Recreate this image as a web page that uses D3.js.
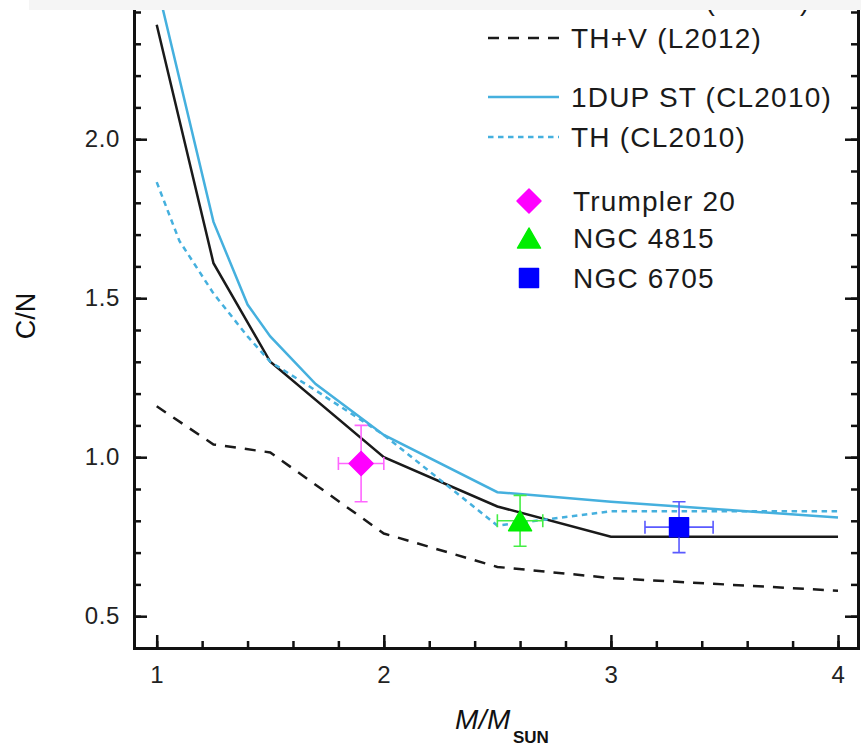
<!DOCTYPE html>
<html>
<head>
<meta charset="utf-8">
<script src="https://cdn.jsdelivr.net/npm/d3@7"></script>
<style>
    body { margin: 0; background: #fff; }
    svg { display: block; font-family: Arial, "Liberation Sans", Helvetica, sans-serif; }
</style>
</head>
<body>
<script>
// ! DATA ! //
// model tracks: [mass, C/N]
const dup1L2012 = [[1.0, 2.36], [1.25, 1.61], [1.5, 1.3], [2.0, 1.0], [2.5, 0.845], [3.0, 0.75], [4.0, 0.75]];
const thvL2012 = [[1.0, 1.16], [1.25, 1.04], [1.5, 1.015], [2.0, 0.76], [2.5, 0.655], [3.0, 0.62], [4.0, 0.58]];
const dupCL2010 = [[1.0, 2.49], [1.25, 1.74], [1.4, 1.48], [1.5, 1.38], [1.7, 1.23], [2.0, 1.07], [2.5, 0.89], [3.0, 0.86], [4.0, 0.81]];
const thCL2010 = [[1.0, 1.865], [1.1, 1.68], [1.25, 1.515], [1.4, 1.38], [1.5, 1.3], [1.7, 1.21], [2.0, 1.07], [2.5, 0.785], [3.0, 0.83], [4.0, 0.83]];

// clusters
const clusterNames = ["Trumpler 20", "NGC 4815", "NGC 6705"];
const clusterMass = [1.9, 2.6, 3.3];
const clusterMassErr = [0.1, 0.1, 0.15];
const clusterCN = [0.98, 0.8, 0.78];
const clusterCNErr = [0.12, 0.08, 0.08];

// ticks
const xMajorTicks = [1, 2, 3, 4];
const yMajorTicks = [0.5, 1.0, 1.5, 2.0, 2.5];
const yTickLabels = ["0.5", "1.0", "1.5", "2.0", ""];

document.addEventListener("DOMContentLoaded", () => {
    const width = 861;
    const height = 746;

    const svg = d3.select("body").append("svg").attr("width", width).attr("height", height);

    // ^ SCALES ^ //
    const x = d3.scaleLinear().domain([0.9, 4.088]).range([134, 858]);
    const y = d3.scaleLinear().domain([0.4, 2.6]).range([648, -51.6]);

    const line = d3.line().x((d) => x(d[0])).y((d) => y(d[1]));

    // ^ MODEL LINES ^ //
    const tracks = [
        { data: dup1L2012, color: "#1a1a1a", dash: null, label: "1DUP ST (L2012)" },
        { data: thvL2012, color: "#1a1a1a", dash: "11,9", label: "TH+V (L2012)" },
        { data: dupCL2010, color: "#45b0de", dash: null, label: "1DUP ST (CL2010)" },
        { data: thCL2010, color: "#45b0de", dash: "5.5,4.5", label: "TH (CL2010)" },
    ];

    svg.append("g")
        .selectAll("path")
        .data(tracks)
        .enter()
        .append("path")
        .attr("d", (d) => line(d.data))
        .attr("fill", "none")
        .attr("stroke", (d) => d.color)
        .attr("stroke-width", 2.5)
        .attr("stroke-dasharray", (d) => d.dash);

    // ^ MARKERS ^ //
    const markerColors = ["#ff00ff", "#00ee00", "#0000ff"];
    const errColors = ["#ff66ff", "#44ee44", "#5a5aff"];
    const markerKinds = ["diamond", "triangle", "square"];

    const markerPath = (kind) => {
        if (kind === "diamond") return "M0,-12L12,0L0,12L-12,0Z";
        if (kind === "triangle") return "M0,-10L11.5,10L-11.5,10Z";
        return "M-9.5,-9.5H9.5V9.5H-9.5Z";
    };

    const cap = 6.5;
    const errG = svg.append("g");
    clusterNames.forEach((name, i) => {
        const cx = x(clusterMass[i]);
        const cy = y(clusterCN[i]);
        const x0 = x(clusterMass[i] - clusterMassErr[i]);
        const x1 = x(clusterMass[i] + clusterMassErr[i]);
        const y0 = y(clusterCN[i] - clusterCNErr[i]);
        const y1 = y(clusterCN[i] + clusterCNErr[i]);
        const p = `M${x0},${cy}H${x1}M${cx},${y0}V${y1}` +
            `M${x0},${cy - cap}V${cy + cap}M${x1},${cy - cap}V${cy + cap}` +
            `M${cx - cap},${y0}H${cx + cap}M${cx - cap},${y1}H${cx + cap}`;
        errG.append("path").attr("d", p).attr("fill", "none").attr("stroke", errColors[i]).attr("stroke-width", 1.6);
    });

    svg.append("g")
        .selectAll("path")
        .data(clusterNames)
        .enter()
        .append("path")
        .attr("d", (d, i) => markerPath(markerKinds[i]))
        .attr("transform", (d, i) => `translate(${x(clusterMass[i])},${y(clusterCN[i])})`)
        .attr("fill", (d, i) => markerColors[i])
        .attr("stroke", (d, i) => markerColors[i])
        .attr("stroke-width", 1.5)
        .attr("stroke-linejoin", "round");

    // ^ AXES ^ //
    const yMinor = d3.range(0.4, 2.61, 0.1).map((v) => +v.toFixed(1));
    const xMinor = d3.range(1, 4.01, 0.2).map((v) => +v.toFixed(1));

    const styleAxis = (g) => {
        g.select(".domain").attr("stroke-width", 3).attr("stroke", "#111");
        g.selectAll(".tick line").attr("stroke-width", 2.5).attr("stroke", "#111");
        g.selectAll(".tick text").attr("font-size", 24).attr("fill", "#222").attr("letter-spacing", 0.6)
            .attr("font-family", "Arial, 'Liberation Sans', sans-serif");
    };

    // left
    svg.append("g").attr("transform", `translate(${x(0.9)},0)`)
        .call(d3.axisLeft(y).tickValues(yMinor).tickSize(-7).tickSizeOuter(0).tickFormat(""))
        .call(styleAxis);
    svg.append("g").attr("transform", `translate(${x(0.9)},0)`)
        .call(d3.axisLeft(y).tickValues(yMajorTicks).tickSize(-13).tickSizeOuter(0).tickPadding(14)
            .tickFormat((d, i) => yTickLabels[i]))
        .call(styleAxis)
        .call((g) => g.select(".domain").remove());

    // right
    svg.append("g").attr("transform", `translate(858,0)`)
        .call(d3.axisRight(y).tickValues(yMinor).tickSize(-7).tickSizeOuter(0).tickFormat(""))
        .call(styleAxis);
    svg.append("g").attr("transform", `translate(858,0)`)
        .call(d3.axisRight(y).tickValues(yMajorTicks).tickSize(-13).tickSizeOuter(0).tickFormat(""))
        .call(styleAxis)
        .call((g) => g.select(".domain").remove());

    // bottom
    svg.append("g").attr("transform", `translate(0,${y(0.4)})`)
        .call(d3.axisBottom(x).tickValues(xMinor).tickSize(-7).tickSizeOuter(0).tickFormat(""))
        .call(styleAxis)
        .call((g) => g.select(".domain").attr("stroke-linecap", "square"));
    svg.append("g").attr("transform", `translate(0,${y(0.4)})`)
        .call(d3.axisBottom(x).tickValues(xMajorTicks).tickSize(-13).tickSizeOuter(0).tickPadding(18)
            .tickFormat((d) => d))
        .call(styleAxis)
        .call((g) => g.select(".domain").remove());

    // ^ AXIS TITLES ^ //
    svg.append("text")
        .attr("transform", "translate(35,316) rotate(-90)")
        .attr("text-anchor", "middle")
        .attr("font-size", 27)
        .attr("fill", "#111")
        .text("C/N");

    const xTitle = svg.append("text").attr("x", 455).attr("y", 729).attr("fill", "#111");
    xTitle.append("tspan").attr("font-size", 28).attr("font-style", "italic").attr("letter-spacing", 0.5).text("M/M");
    xTitle.append("tspan").attr("font-size", 17).attr("font-weight", "bold").attr("dy", 14).attr("dx", 2).text("SUN");

    // ^ LEGEND ^ //
    const legend = svg.append("g");
    const legendRows = [0, 38, 97, 137];
    tracks.forEach((t, i) => {
        const ly = legendRows[i];
        legend.append("line")
            .attr("x1", 488).attr("x2", i === 1 ? 562 : 559)
            .attr("y1", ly).attr("y2", ly)
            .attr("stroke", t.color).attr("stroke-width", 2.5)
            .attr("stroke-dasharray", t.dash);
        legend.append("text")
            .attr("x", 571).attr("y", ly).attr("dy", "0.35em")
            .attr("font-size", 28).attr("letter-spacing", 1.2).attr("fill", "#1a1a1a")
            .text(t.label);
    });

    const markerRows = [201, 238, 278];
    clusterNames.forEach((name, i) => {
        legend.append("path")
            .attr("d", markerPath(markerKinds[i]))
            .attr("transform", `translate(529,${markerRows[i]})`)
            .attr("fill", markerColors[i]).attr("stroke", markerColors[i])
            .attr("stroke-width", 1.5).attr("stroke-linejoin", "round");
        legend.append("text")
            .attr("x", 573).attr("y", markerRows[i]).attr("dy", "0.35em")
            .attr("font-size", 28).attr("letter-spacing", 1.2).attr("fill", "#1a1a1a")
            .text(name);
    });

    // ^ TOP BAND ^ //
    svg.append("rect").attr("x", 29).attr("y", 0).attr("width", width - 29).attr("height", 10).attr("fill", "#f5f5f5");
});
</script>
</body>
</html>
